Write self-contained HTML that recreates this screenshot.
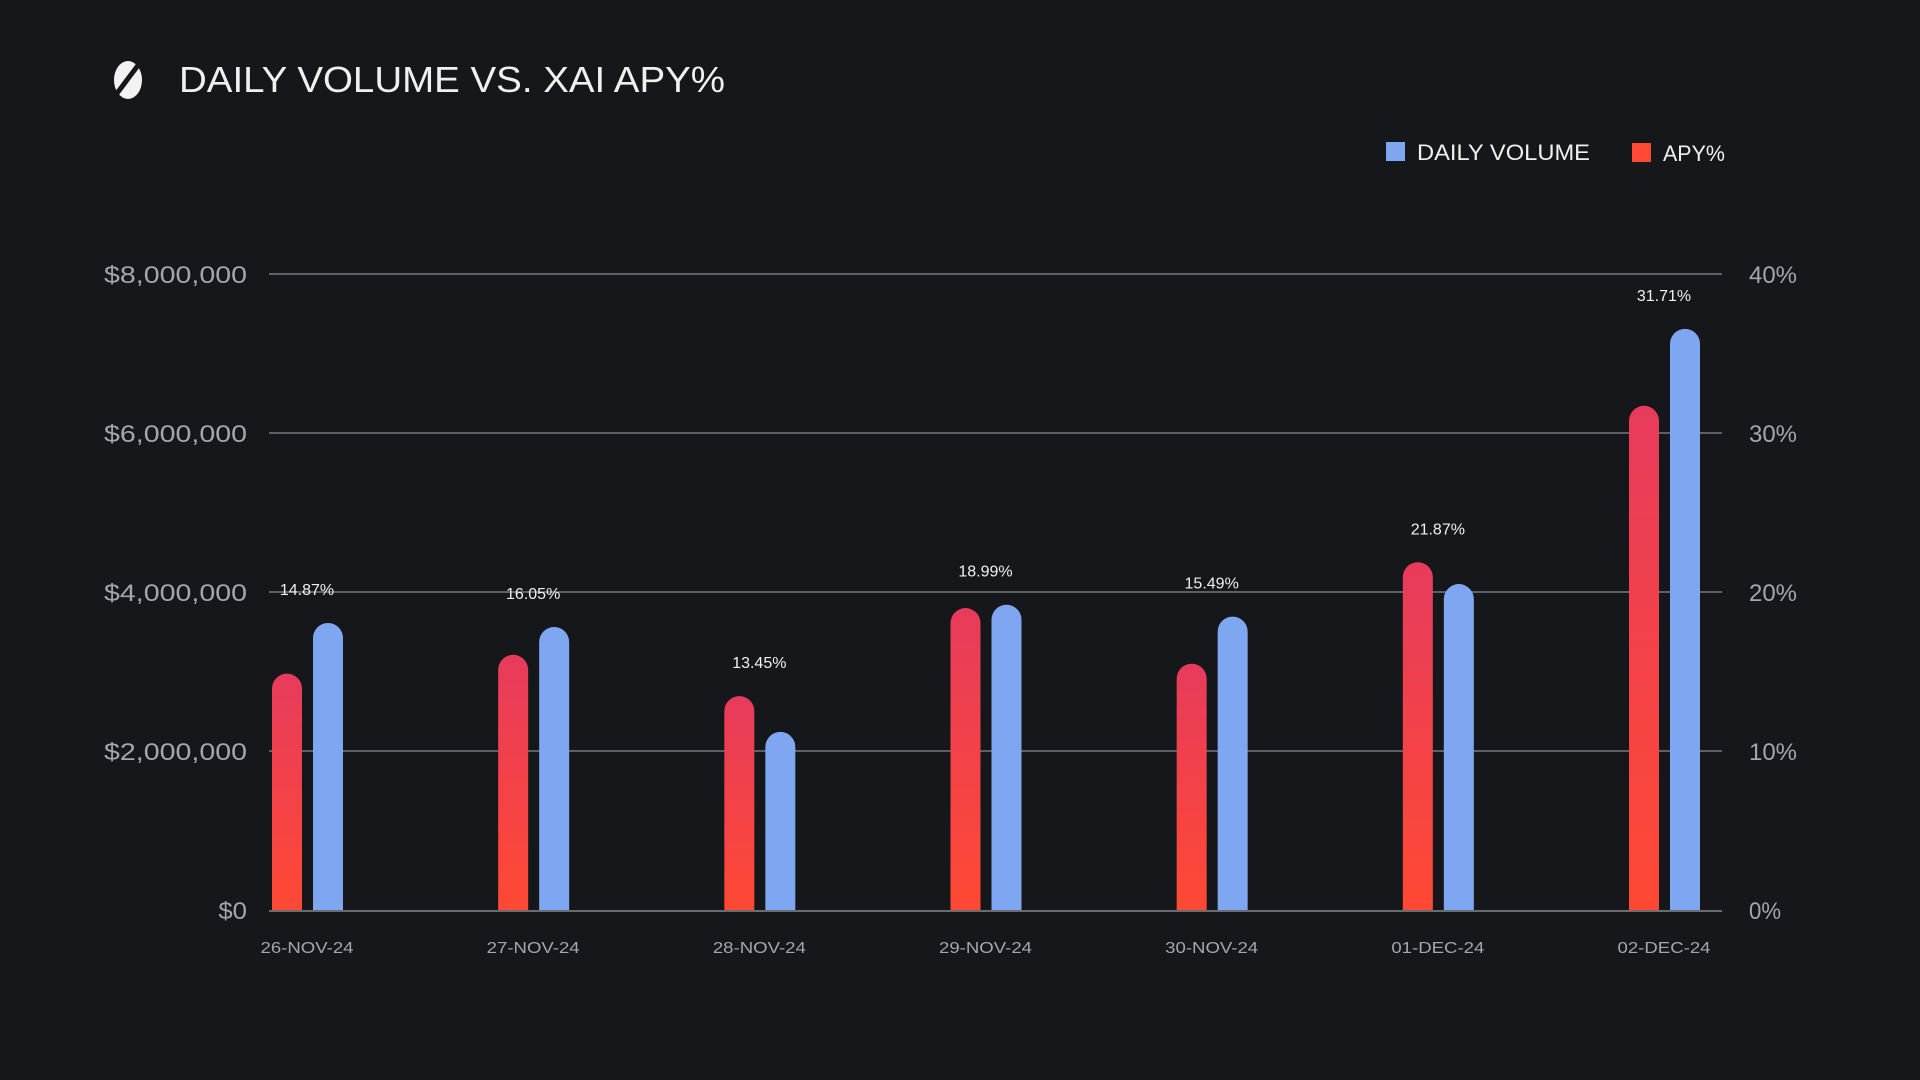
<!DOCTYPE html>
<html><head><meta charset="utf-8">
<style>
html,body{margin:0;padding:0;background:#16171b;width:1920px;height:1080px;overflow:hidden}
svg{display:block}
text{font-family:"Liberation Sans",sans-serif}
</style></head>
<body>
<svg id="chart" width="1920" height="1080" viewBox="0 0 1920 1080" xmlns="http://www.w3.org/2000/svg">
  <defs>
    <linearGradient id="redGrad" x1="0" y1="0" x2="0" y2="1">
      <stop offset="0" stop-color="#e73b5c"/>
      <stop offset="1" stop-color="#ff4934"/>
    </linearGradient>
  </defs>
  <rect width="1920" height="1080" fill="#16171b"/>
  <g>
    <ellipse cx="128" cy="80" rx="14" ry="19" fill="#f2f2f2"/>
    <line x1="142" y1="60" x2="112" y2="100" stroke="#16171b" stroke-width="5"/>
  </g>
  <text x="179" y="92" font-size="36" fill="#f0f0f0" textLength="546" lengthAdjust="spacingAndGlyphs">DAILY VOLUME VS. XAI APY%</text>
  <g>
    <rect x="1386" y="142" width="19" height="19" fill="#7fa6f0"/>
    <text x="1417" y="160" font-size="22" fill="#f0f0f0" textLength="173" lengthAdjust="spacingAndGlyphs">DAILY VOLUME</text>
    <rect x="1632" y="143" width="19" height="19" fill="#ff4934"/>
    <text x="1663" y="161" font-size="22" fill="#f0f0f0" textLength="62" lengthAdjust="spacingAndGlyphs">APY%</text>
  </g>
  <g id="grid"></g>
  <g id="bars"></g>
  <g id="labels"></g>
</svg>
<script>
const categories = ["26-NOV-24","27-NOV-24","28-NOV-24","29-NOV-24","30-NOV-24","01-DEC-24","02-DEC-24"];
const volumeValues = [3610000,3560000,2240000,3840000,3690000,4100000,7310000];
const apyValues = [14.87,16.05,13.45,18.99,15.49,21.87,31.71];
const volumeTicks = [0,2000000,4000000,6000000,8000000];
const volumeTickLabels = ["$0","$2,000,000","$4,000,000","$6,000,000","$8,000,000"];
const apyTicks = [0,10,20,30,40];
const apyTickLabels = ["0%","10%","20%","30%","40%"];

const NS="http://www.w3.org/2000/svg";
const y0=910, yTop=274, plotL=269, plotR=1722;
const yVol = v => y0 - (v/8000000)*(y0-yTop);
const yApy = v => y0 - (v/40)*(y0-yTop);
const xCenter = i => 307 + i*(1664-307)/(categories.length-1);
function mk(tag, attrs, parent){const e=document.createElementNS(NS,tag);for(const k in attrs)e.setAttribute(k,attrs[k]);parent.appendChild(e);return e;}
const grid=document.getElementById('grid'), bars=document.getElementById('bars'), labels=document.getElementById('labels');

volumeTicks.forEach((t,i)=>{
  const y=yVol(t);
  if(i>0){
    const l=mk('line',{x1:plotL,x2:plotR,y1:y,y2:y,stroke:'#8a8c92','stroke-width':1.2},grid);
    
    
  }
  const lab=volumeTickLabels[i];
  const tx=mk('text',{x:247,y:y+9,'font-size':24,fill:'#a4a6ad','text-anchor':'end',textLength:lab.length*14.3,lengthAdjust:'spacingAndGlyphs'},grid);
  tx.textContent=lab;
  
  
});
apyTicks.forEach((t,i)=>{
  const y=yApy(t);
  const lab=apyTickLabels[i];
  const tx=mk('text',{x:1749,y:y+9,'font-size':24,fill:'#a4a6ad',textLength:lab.length*16,lengthAdjust:'spacingAndGlyphs'},grid);
  tx.textContent=lab;
  
  
});
const base=mk('line',{x1:plotL,x2:plotR,y1:y0+1,y2:y0+1,stroke:'#6a6c72','stroke-width':2},grid);



function bar(x,yt,fill){
  const w=30,r=15;
  const d=`M${x},${y0} L${x},${yt+r} A${r},${r} 0 0 1 ${x+w},${yt+r} L${x+w},${y0} Z`;
  return mk('path',{d:d,fill:fill},bars);
}
categories.forEach((c,i)=>{
  const cx=xCenter(i);
  const ya=yApy(apyValues[i]), yv=yVol(volumeValues[i]);
  const rb=bar(cx-35,ya,'url(#redGrad)');
  
  
  const bb=bar(cx+6,yv,'#7fa6f0');
  
  
  const lt=mk('text',{x:cx,y:Math.min(ya,yv)-28,'font-size':16,fill:'#f0f0f0','text-anchor':'middle'},labels);
  lt.textContent=apyValues[i].toFixed(2)+'%';
  
  
  const xl=mk('text',{x:cx,y:953,'font-size':16,fill:'#a4a6ad','text-anchor':'middle',textLength:93,lengthAdjust:'spacingAndGlyphs'},labels);
  xl.textContent=c;
  
  
});
</script>
</body></html>
